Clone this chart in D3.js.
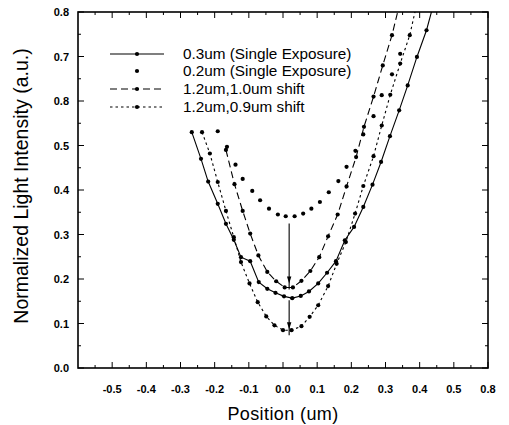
<!DOCTYPE html>
<html><head><meta charset="utf-8">
<script src="https://cdn.jsdelivr.net/npm/d3@7"></script>
<style>body{margin:0;background:#fff}svg{display:block}</style>
</head><body>
<script>
// ---- data ----
const seriesNames = ["0.3um (Single Exposure)", "0.2um (Single Exposure)", "1.2um,1.0um shift", "1.2um,0.9um shift"];
const x03 = [-0.267,-0.240,-0.219,-0.191,-0.167,-0.144,-0.123,-0.096,-0.071,-0.046,-0.022,0.003,0.027,0.052,0.076,0.103,0.129,0.155,0.181,0.208,0.235,0.262,0.287,0.313,0.340,0.365,0.392,0.420,0.445];
const y03 = [0.530,0.470,0.419,0.369,0.324,0.288,0.249,0.240,0.193,0.178,0.169,0.161,0.157,0.162,0.172,0.190,0.214,0.240,0.287,0.317,0.362,0.412,0.463,0.521,0.579,0.635,0.699,0.759,0.830];
const x02 = [-0.191,-0.164,-0.139,-0.118,-0.090,-0.067,-0.041,-0.015,0.008,0.034,0.059,0.083,0.108,0.134,0.162,0.186,0.212,0.235,0.265,0.289,0.319,0.343];
const y02 = [0.532,0.497,0.457,0.425,0.398,0.377,0.358,0.345,0.341,0.341,0.347,0.358,0.373,0.395,0.420,0.452,0.488,0.525,0.566,0.613,0.660,0.706];
const x10 = [-0.167,-0.142,-0.118,-0.096,-0.072,-0.046,-0.020,0.005,0.029,0.054,0.080,0.106,0.132,0.160,0.186,0.214,0.237,0.265,0.292,0.319,0.345];
const y10 = [0.490,0.413,0.353,0.302,0.253,0.216,0.195,0.181,0.181,0.196,0.218,0.249,0.296,0.345,0.408,0.474,0.542,0.610,0.680,0.748,0.830];
const x09 = [-0.237,-0.214,-0.191,-0.167,-0.144,-0.123,-0.098,-0.074,-0.049,-0.025,0.000,0.025,0.054,0.078,0.103,0.132,0.157,0.184,0.211,0.235,0.265,0.289,0.314,0.343,0.371,0.395];
const y09 = [0.530,0.482,0.418,0.353,0.294,0.238,0.190,0.148,0.116,0.096,0.085,0.085,0.094,0.115,0.141,0.184,0.234,0.283,0.347,0.409,0.476,0.545,0.614,0.684,0.748,0.830];
const arrowX = [0.018, 0.018];
const arrowFrom = [0.325, 0.152];
const arrowTo = [0.190, 0.087];
const xTickValues = [-0.5,-0.4,-0.3,-0.2,-0.1,0.0,0.1,0.2,0.3,0.4,0.5,0.6];
const xTickLabels = ["-0.5","-0.4","-0.3","-0.2","-0.1","0.0","0.1","0.2","0.3","0.4","0.5","0.8"];
const yTickValues = [0.0,0.1,0.2,0.3,0.4,0.5,0.6,0.7,0.8];
const yTickLabels = ["0.0","0.1","0.2","0.3","0.4","0.5","0.8","0.7","0.8"];

// ---- layout ----
const W = 509, H = 425;
const L = 78, R = 488, T = 12, B = 368;
const svg = d3.select("body").append("svg").attr("width", W).attr("height", H);
const x = d3.scaleLinear().domain([-0.6, 0.6]).range([L, R]);
const y = d3.scaleLinear().domain([0, 0.8]).range([B, T]);

svg.append("defs").append("clipPath").attr("id","clip")
  .append("rect").attr("x",L).attr("y",T).attr("width",R-L).attr("height",B-T);

// ticks (inward) on all four sides
const minorX = d3.range(-0.55, 0.6, 0.1).map(v => +v.toFixed(2));
const minorY = d3.range(0.05, 0.8, 0.1).map(v => +v.toFixed(2));
const ax = svg.append("g").attr("stroke","#000").attr("stroke-width",1);
xTickValues.forEach(v => {
  ax.append("line").attr("x1",x(v)).attr("x2",x(v)).attr("y1",B).attr("y2",B-6);
  ax.append("line").attr("x1",x(v)).attr("x2",x(v)).attr("y1",T).attr("y2",T+6);
});
minorX.forEach(v => {
  ax.append("line").attr("x1",x(v)).attr("x2",x(v)).attr("y1",B).attr("y2",B-3);
  ax.append("line").attr("x1",x(v)).attr("x2",x(v)).attr("y1",T).attr("y2",T+3);
});
yTickValues.forEach(v => {
  ax.append("line").attr("x1",L).attr("x2",L+6).attr("y1",y(v)).attr("y2",y(v));
  ax.append("line").attr("x1",R).attr("x2",R-6).attr("y1",y(v)).attr("y2",y(v));
});
minorY.forEach(v => {
  ax.append("line").attr("x1",L).attr("x2",L+3).attr("y1",y(v)).attr("y2",y(v));
  ax.append("line").attr("x1",R).attr("x2",R-3).attr("y1",y(v)).attr("y2",y(v));
});
svg.append("rect").attr("x",L).attr("y",T).attr("width",R-L).attr("height",B-T)
  .attr("fill","none").attr("stroke","#000").attr("stroke-width",1.6);

// tick labels
const tf = "'Liberation Sans', Arial, sans-serif";
svg.append("g").selectAll("text").data(xTickValues).join("text")
  .attr("x", d => x(d)).attr("y", B + 25).attr("text-anchor","middle")
  .attr("font-family", tf).attr("font-weight","bold").attr("font-size", 11)
  .text((d,i) => xTickLabels[i]);
svg.append("g").selectAll("text").data(yTickValues).join("text")
  .attr("x", L - 9).attr("y", d => y(d) + 4).attr("text-anchor","end")
  .attr("font-family", tf).attr("font-weight","bold").attr("font-size", 11)
  .text((d,i) => yTickLabels[i]);

// axis titles
svg.append("text").attr("x", 283).attr("y", 420).attr("text-anchor","middle")
  .attr("font-family", tf).attr("font-size", 18).attr("letter-spacing", 0.4)
  .text("Position (um)");
svg.append("text").attr("transform","translate(28,186) rotate(-90)").attr("text-anchor","middle")
  .attr("font-family", tf).attr("font-size", 19.5)
  .text("Normalized Light Intensity (a.u.)");

// series
const styles = [
  {dash:null, line:true},
  {dash:null, line:false},
  {dash:"7,4", line:true},
  {dash:"2.5,3", line:true}
];
const data = [
  d3.zip(x03, y03), d3.zip(x02, y02), d3.zip(x10, y10), d3.zip(x09, y09)
];
const plot = svg.append("g").attr("clip-path","url(#clip)");
const lineGen = d3.line().x(d => x(d[0])).y(d => y(d[1]));
data.forEach((pts, i) => {
  if (styles[i].line) {
    plot.append("path").attr("d", lineGen(pts)).attr("fill","none")
      .attr("stroke","#000").attr("stroke-width",1.1)
      .attr("stroke-dasharray", styles[i].dash);
  }
  plot.append("g").selectAll("circle").data(pts).join("circle")
    .attr("cx", d => x(d[0])).attr("cy", d => y(d[1])).attr("r", 2.1).attr("fill","#000");
});

// arrows
const ag = svg.append("g");
arrowX.forEach((ax0, i) => {
  const xx = x(ax0), y1 = y(arrowFrom[i]), y2 = y(arrowTo[i]);
  ag.append("line").attr("x1",xx).attr("x2",xx).attr("y1",y1).attr("y2",y2+6)
    .attr("stroke","#000").attr("stroke-width",1.1);
  ag.append("path").attr("d",`M${xx-2.2},${y2-7} L${xx+2.2},${y2-7} L${xx},${y2} Z`)
    .attr("fill","#000");
});

// legend
const legY = [54, 71, 89, 107];
const lg = svg.append("g");
seriesNames.forEach((name, i) => {
  if (styles[i].line) {
    lg.append("line").attr("x1",110).attr("x2",164).attr("y1",legY[i]).attr("y2",legY[i])
      .attr("stroke","#000").attr("stroke-width",1.1).attr("stroke-dasharray", styles[i].dash);
  }
  lg.append("circle").attr("cx",137).attr("cy",legY[i]).attr("r",2.1).attr("fill","#000");
  lg.append("text").attr("x",183).attr("y",legY[i]+5).attr("font-family",tf).attr("font-size",15.3)
    .text(name);
});
</script>
</body></html>
